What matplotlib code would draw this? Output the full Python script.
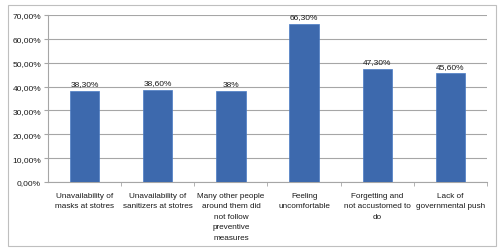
import matplotlib.pyplot as plt
from matplotlib.patches import Rectangle
from matplotlib.ticker import FuncFormatter, MultipleLocator

categories = [
    "Unavailability of\nmasks at stotres",
    "Unavailability of\nsanitizers at stotres",
    "Many other people\naround them did\nnot follow\npreventive\nmeasures",
    "Feeling\nuncomfortable",
    "Forgetting and\nnot accustomed to\ndo",
    "Lack of\ngovernmental push",
]
values = [38.3, 38.6, 38.0, 66.3, 47.3, 45.6]
value_labels = ["38,30%", "38,60%", "38%", "66,30%", "47,30%", "45,60%"]

plt.rcParams['font.family'] = ['Liberation Sans', 'DejaVu Sans']

fig = plt.figure(figsize=(5, 2.53), dpi=100)
fig.patches.append(Rectangle((0.016, 0.024), 0.976, 0.952, transform=fig.transFigure,
                             fill=False, edgecolor='#bfbfbf', linewidth=0.8))
ax = fig.add_axes([0.096, 0.277, 0.878, 0.66])

x = range(len(categories))
ax.bar(x, values, width=0.4, color='#3D69AD', edgecolor='#4A7BC4', linewidth=0.5, zorder=3)
for i, (v, lab) in enumerate(zip(values, value_labels)):
    ax.text(i, v + 1.5, lab, ha='center', va='bottom', fontsize=6, color='#1a1a1a')

ax.set_xlim(-0.5, len(categories) - 0.5)
ax.set_ylim(0, 70)
ax.yaxis.set_major_locator(MultipleLocator(10))
ax.yaxis.set_major_formatter(FuncFormatter(lambda v, p: f"{v:.2f}%".replace('.', ',')))
ax.grid(axis='y', color='#a6a6a6', linewidth=0.8, zorder=0)

ax.set_xticks(list(x))
ax.set_xticklabels(categories, fontsize=5.9, linespacing=1.7, color='#1a1a1a')
ax.tick_params(axis='x', length=0, pad=7)
ax.set_xticks([i + 0.5 for i in range(len(categories))], minor=True)
ax.tick_params(axis='x', which='minor', length=3, color='#a6a6a6')
ax.tick_params(axis='y', length=3, color='#a6a6a6', labelsize=6, labelcolor='#1a1a1a', pad=2)

for s in ['top', 'right']:
    ax.spines[s].set_visible(False)
ax.spines['left'].set_color('#a6a6a6')
ax.spines['bottom'].set_color('#a6a6a6')

fig.savefig('out.png', dpi=100)
